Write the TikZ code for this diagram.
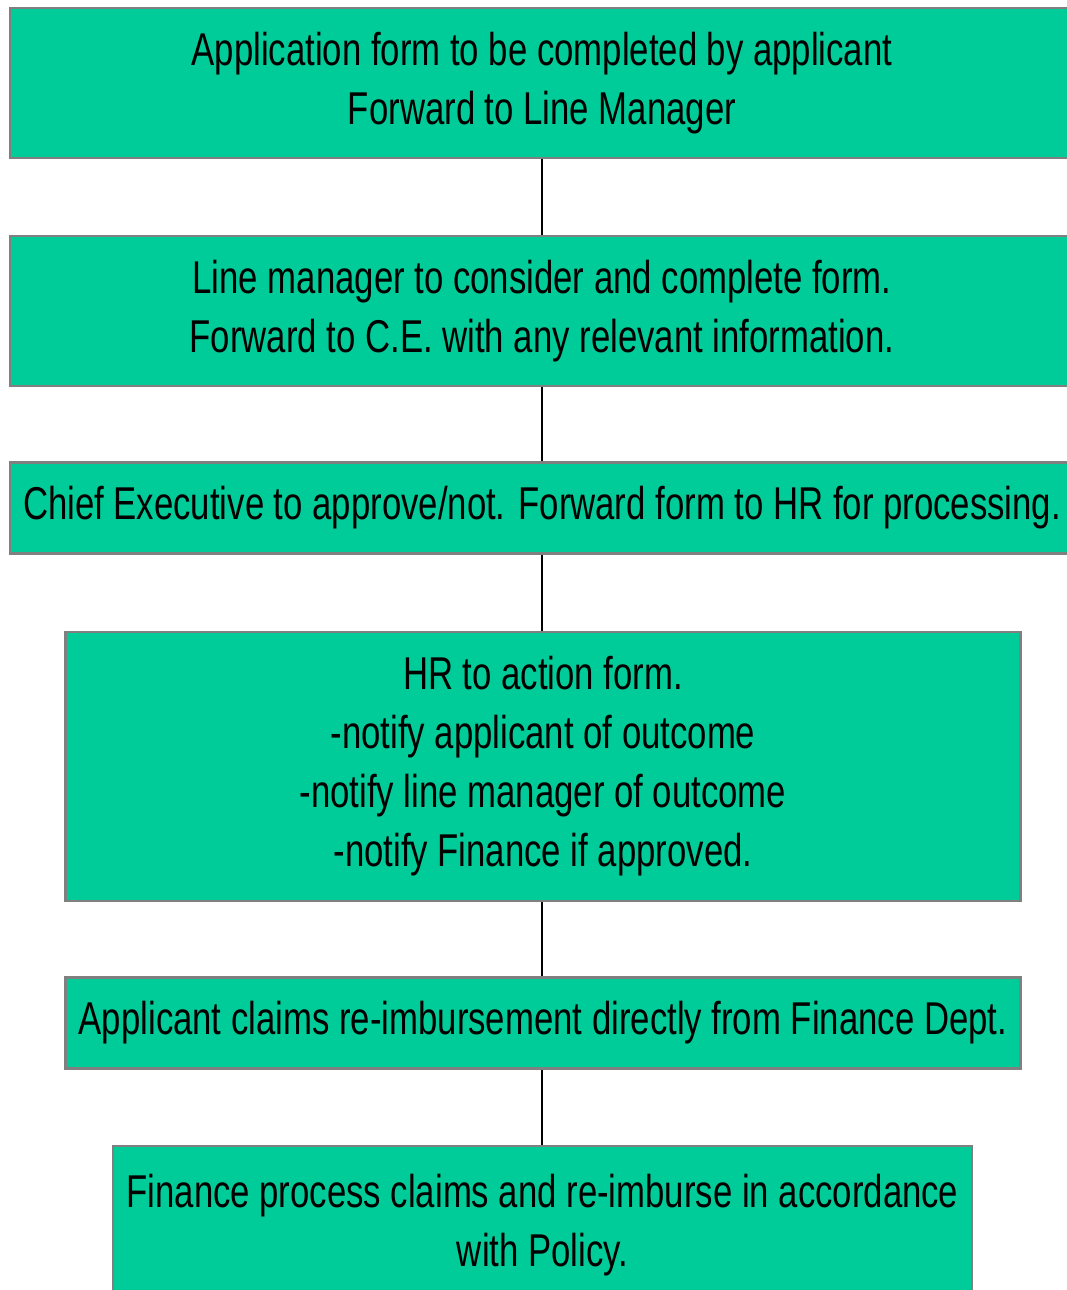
\documentclass[tikz,border=0pt]{standalone}
\usepackage{fontspec}
\setmainfont[FakeStretch=0.755]{Liberation Sans}
\usepackage{xcolor}
\usepackage{tikz}
\definecolor{stagegreen}{RGB}{0,204,153}
\definecolor{stageedge}{RGB}{128,128,128}

\begin{document}
\begin{tikzpicture}[x=1pt,y=-1pt,
  stage/.style={draw=stageedge, line width=2.5pt, fill=stagegreen, align=center,
    inner sep=0pt, font=\fontsize{46}{59}\selectfont},
  wide/.style={stage, minimum width=1064pt},
  mid/.style={stage, minimum width=955pt},
  narrow/.style={stage, minimum width=859pt},
  link/.style={line width=1.5pt}]
\useasboundingbox (0,0) rectangle (1066,1290);

\node[wide, minimum height=150pt] (apply) at (542,83) {Application form to be completed by applicant\\Forward to Line Manager};
\node[wide, minimum height=150pt] (manager) at (542,311) {Line manager to consider and complete form.\\Forward to C.E. with any relevant information.};
\node[wide, minimum height=91pt] (chief) at (542,508) {Chief Executive to approve/not. Forward form to HR for processing.};
\node[mid, minimum height=269pt] (hr) at (543,766.5) {HR to action form.\\-notify applicant of outcome\\-notify line manager of outcome\\-notify Finance if approved.};
\node[mid, minimum height=91pt] (claim) at (543,1023) {Applicant claims re-imbursement directly from Finance Dept.};
\node[narrow, minimum height=158pt] (finance) at (542.5,1225) {Finance process claims and re-imburse in accordance\\with Policy.};

\draw[link] (apply) -- (manager);
\draw[link] (manager) -- (chief);
\draw[link] (chief.south) -- (chief.south |- hr.north);
\draw[link] (hr.south -| chief.south) -- (claim.north -| chief.south);
\draw[link] (claim.south -| chief.south) -- (finance.north -| chief.south);
\end{tikzpicture}
\end{document}
